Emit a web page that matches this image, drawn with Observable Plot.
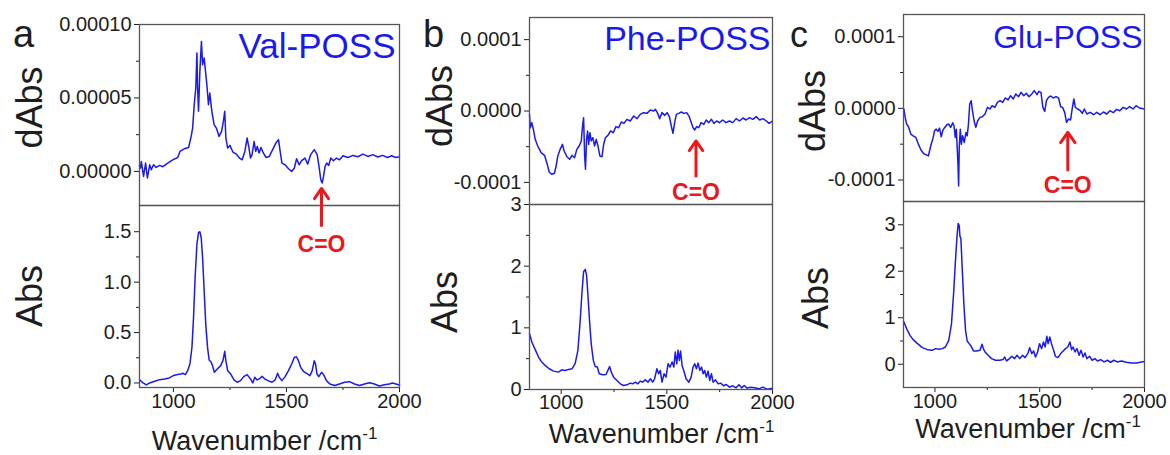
<!DOCTYPE html>
<html><head><meta charset="utf-8">
<script src="https://cdn.jsdelivr.net/npm/d3@7"></script>
<script src="https://cdn.jsdelivr.net/npm/@observablehq/plot@0.6"></script>
<style>
body{margin:0;background:#fff;}
#fig{position:relative;width:1170px;height:455px;overflow:hidden;background:#fff;font-family:"Liberation Sans",Arial,sans-serif;}
</style></head><body><div id="fig"></div>
<script>
// ---------- data (wavenumber /cm-1, value) ----------
// dAbs values are in units of 1e-5
const valDabs = [[850,0.4],[854,0.23],[858,0.68],[868,-0.34],[877,0.57],[885,-0.45],[895,0.45],[902,0.11],[912,0.45],[924,0.27],[939,0.41],[953,0.32],[975,0.57],[997,0.79],[1019,0.95],[1029,1.36],[1048,1.54],[1067,1.63],[1077,2.27],[1085,2.95],[1092,4.54],[1099,5.68],[1104,8.06],[1107,5.68],[1111,4.09],[1117,6.81],[1124,8.85],[1129,7.26],[1136,7.72],[1142,6.81],[1148,5.90],[1155,4.54],[1161,5.33],[1170,4.09],[1180,3.18],[1190,2.95],[1202,2.38],[1213,2.72],[1221,3.41],[1227,4.09],[1232,2.27],[1240,1.59],[1250,1.77],[1263,1.32],[1278,1.18],[1292,0.91],[1304,0.79],[1316,1.36],[1326,2.27],[1333,1.70],[1341,0.91],[1348,1.14],[1357,2.04],[1364,1.36],[1371,1.70],[1379,1.25],[1387,1.63],[1396,1.32],[1409,0.95],[1424,1.02],[1439,1.48],[1453,1.93],[1465,2.16],[1471,1.48],[1480,0.57],[1494,0.45],[1509,0.18],[1523,0.00],[1535,0.23],[1545,0.86],[1556,0.45],[1567,0.73],[1582,0.91],[1594,0.50],[1607,1.14],[1623,1.48],[1636,1.14],[1645,0.23],[1652,-0.57],[1658,-0.79],[1664,-0.34],[1671,0.34],[1678,0.57],[1687,0.41],[1696,0.91],[1708,0.73],[1721,0.91],[1735,0.79],[1750,1.07],[1772,0.95],[1794,1.09],[1816,1.00],[1838,1.18],[1860,1.02],[1882,1.14],[1904,0.98],[1925,1.09],[1947,0.95],[1965,1.07],[1984,0.95],[2000,1.00]];
const valAbs = [[850,0.03],[854,0.023],[866,0.0],[880,-0.02],[895,0.0],[917,0.017],[939,0.033],[961,0.04],[982,0.05],[1000,0.073],[1019,0.083],[1034,0.089],[1041,0.096],[1053,0.083],[1063,0.122],[1073,0.188],[1082,0.353],[1089,0.65],[1096,1.046],[1104,1.376],[1111,1.49],[1117,1.50],[1123,1.44],[1129,1.244],[1136,0.914],[1143,0.584],[1151,0.353],[1158,0.228],[1167,0.205],[1173,0.172],[1181,0.106],[1194,0.139],[1209,0.172],[1219,0.221],[1227,0.314],[1232,0.221],[1240,0.122],[1253,0.089],[1268,0.03],[1282,0.007],[1297,0.023],[1311,0.063],[1326,0.083],[1341,0.04],[1351,0.0],[1360,0.056],[1370,0.03],[1380,0.04],[1392,0.066],[1404,0.04],[1418,0.023],[1436,0.007],[1450,0.03],[1461,0.096],[1468,0.056],[1480,0.023],[1494,0.063],[1509,0.122],[1523,0.188],[1535,0.254],[1544,0.26],[1553,0.221],[1563,0.155],[1575,0.116],[1589,0.096],[1604,0.073],[1614,0.122],[1623,0.221],[1629,0.182],[1635,0.089],[1643,0.063],[1655,0.106],[1664,0.083],[1677,0.023],[1692,-0.01],[1713,-0.026],[1735,-0.01],[1757,0.007],[1779,0.013],[1801,-0.01],[1823,-0.026],[1845,-0.01],[1867,0.003],[1889,-0.01],[1911,-0.03],[1933,-0.017],[1955,-0.01],[1969,0.0],[1984,-0.01],[2000,-0.02]];

const pheDabs = [[850,-0.47],[854,-2.34],[861,-1.63],[869,-2.66],[877,-3.97],[889,-4.9],[905,-5.84],[921,-6.21],[932,-7.24],[943,-8.55],[956,-8.87],[968,-8.73],[976,-7.71],[984,-6.30],[995,-5.37],[1006,-4.67],[1014,-5.60],[1027,-6.40],[1040,-6.77],[1051,-6.21],[1063,-6.54],[1074,-5.37],[1085,-4.90],[1095,-4.20],[1101,-2.10],[1106,-0.93],[1111,-6.30],[1115,-8.17],[1120,-3.97],[1125,-2.80],[1130,-4.67],[1136,-3.04],[1142,-4.20],[1150,-3.74],[1158,-4.90],[1166,-3.97],[1174,-4.90],[1183,-6.30],[1193,-6.40],[1201,-4.67],[1209,-3.74],[1221,-3.41],[1234,-2.80],[1246,-3.04],[1259,-2.19],[1272,-2.34],[1284,-1.54],[1297,-1.73],[1311,-1.17],[1327,-1.40],[1343,-0.70],[1359,-1.07],[1374,-0.47],[1390,-0.23],[1406,-0.33],[1422,0.14],[1438,0.0],[1446,0.23],[1455,-0.23],[1466,-1.07],[1477,-0.23],[1490,-0.61],[1501,-0.23],[1512,-0.79],[1521,-2.10],[1529,-3.13],[1537,-1.63],[1545,-0.47],[1556,-0.33],[1568,-0.14],[1581,-0.33],[1594,-0.23],[1606,-0.79],[1616,-1.63],[1624,-2.34],[1632,-2.66],[1641,-2.19],[1651,-2.34],[1662,-1.63],[1675,-1.87],[1686,-1.26],[1698,-1.63],[1711,-1.17],[1723,-1.73],[1736,-1.40],[1749,-1.63],[1764,-1.26],[1780,-1.63],[1796,-1.40],[1812,-1.63],[1828,-1.07],[1844,-1.40],[1860,-0.98],[1875,-1.26],[1891,-0.93],[1907,-1.17],[1923,-0.79],[1939,-1.26],[1955,-1.07],[1971,-1.40],[1984,-1.73],[2000,-1.40]];
const pheAbs = [[850,0.906],[861,0.77],[877,0.646],[893,0.526],[908,0.445],[924,0.39],[943,0.336],[964,0.298],[987,0.282],[1003,0.32],[1019,0.309],[1035,0.326],[1051,0.336],[1066,0.418],[1079,0.635],[1090,1.123],[1098,1.557],[1106,1.91],[1114,1.948],[1120,1.856],[1126,1.557],[1134,1.123],[1142,0.743],[1152,0.472],[1161,0.374],[1171,0.364],[1180,0.255],[1196,0.239],[1212,0.244],[1221,0.309],[1229,0.374],[1237,0.282],[1248,0.2],[1264,0.146],[1280,0.092],[1295,0.065],[1311,0.076],[1327,0.103],[1338,0.092],[1351,0.119],[1363,0.092],[1374,0.136],[1385,0.119],[1398,0.157],[1411,0.119],[1422,0.174],[1433,0.119],[1442,0.174],[1453,0.336],[1461,0.255],[1469,0.309],[1477,0.119],[1487,0.255],[1496,0.2],[1506,0.418],[1515,0.364],[1525,0.445],[1533,0.364],[1540,0.608],[1547,0.418],[1553,0.635],[1559,0.472],[1565,0.624],[1572,0.39],[1580,0.309],[1591,0.174],[1604,0.119],[1615,0.2],[1624,0.364],[1632,0.418],[1640,0.336],[1648,0.429],[1656,0.309],[1664,0.364],[1672,0.255],[1679,0.309],[1687,0.2],[1695,0.298],[1703,0.146],[1711,0.255],[1719,0.119],[1730,0.157],[1743,0.092],[1755,0.103],[1768,0.06],[1781,0.081],[1797,0.038],[1812,0.06],[1828,0.027],[1841,0.076],[1854,0.027],[1866,0.065],[1880,0.022],[1896,0.038],[1916,0.027],[1935,0.011],[1954,0.038],[1975,0.005],[2000,0.022]];

const gluDabs = [[850,-0.05],[852,-0.09],[858,-1.26],[865,-2.19],[874,-2.57],[885,-3.60],[896,-3.83],[909,-4.06],[921,-5.0],[934,-5.84],[946,-6.30],[959,-6.49],[969,-6.63],[975,-5.84],[983,-4.90],[991,-4.16],[998,-3.13],[1006,-2.90],[1014,-3.22],[1022,-2.76],[1030,-3.97],[1038,-3.04],[1047,-2.66],[1057,-2.29],[1066,-2.19],[1075,-2.66],[1085,-2.01],[1091,-2.43],[1097,-4.06],[1102,-2.90],[1107,-5.93],[1110,-7.80],[1113,-10.83],[1116,-5.46],[1121,-2.90],[1126,-5.0],[1132,-3.83],[1140,-4.76],[1148,-3.36],[1154,-3.83],[1160,-2.19],[1166,0.61],[1173,1.07],[1179,-0.33],[1187,-1.73],[1195,-2.66],[1204,-1.73],[1215,-1.26],[1226,-1.17],[1239,-0.79],[1251,0.14],[1262,-0.09],[1273,0.37],[1286,0.14],[1298,0.84],[1311,1.07],[1323,0.84],[1336,1.45],[1349,1.17],[1361,1.77],[1374,1.31],[1386,2.01],[1399,1.63],[1411,2.24],[1424,1.77],[1436,2.10],[1449,1.63],[1462,2.01],[1474,2.48],[1487,1.91],[1496,2.38],[1506,2.24],[1515,0.14],[1524,-0.42],[1532,1.07],[1542,1.54],[1553,1.73],[1565,1.45],[1578,1.63],[1590,1.45],[1600,0.23],[1609,0.14],[1619,-0.56],[1628,-1.96],[1637,-1.49],[1647,-1.63],[1656,0.14],[1663,1.31],[1670,0.14],[1681,-0.09],[1694,-0.33],[1703,-0.70],[1713,-0.09],[1725,-0.79],[1741,-0.56],[1757,-0.89],[1772,-0.56],[1788,-0.89],[1804,-0.51],[1820,-0.79],[1835,-0.33],[1851,-0.61],[1867,-0.14],[1882,-0.33],[1898,0.14],[1914,-0.09],[1929,0.23],[1945,-0.09],[1960,0.37],[1976,0.05],[2000,-0.09]];
const gluAbs = [[850,0.92],[852,0.907],[865,0.764],[881,0.621],[896,0.529],[917,0.443],[940,0.357],[964,0.314],[987,0.3],[1003,0.336],[1019,0.321],[1035,0.336],[1050,0.371],[1066,0.514],[1079,0.871],[1089,1.514],[1097,2.157],[1105,2.729],[1111,3.029],[1116,2.979],[1119,2.764],[1124,2.693],[1130,2.086],[1138,1.30],[1146,0.729],[1154,0.5],[1163,0.443],[1173,0.386],[1184,0.286],[1199,0.286],[1215,0.3],[1225,0.429],[1231,0.336],[1239,0.264],[1254,0.193],[1270,0.121],[1289,0.086],[1309,0.086],[1325,0.1],[1333,0.157],[1342,0.071],[1356,0.121],[1367,0.171],[1380,0.121],[1392,0.193],[1405,0.121],[1418,0.193],[1430,0.143],[1443,0.229],[1452,0.357],[1462,0.229],[1471,0.286],[1480,0.157],[1490,0.264],[1499,0.443],[1509,0.336],[1518,0.479],[1526,0.371],[1534,0.6],[1540,0.443],[1548,0.586],[1556,0.443],[1564,0.336],[1575,0.171],[1587,0.143],[1600,0.229],[1612,0.286],[1623,0.336],[1634,0.371],[1644,0.479],[1652,0.314],[1659,0.371],[1669,0.264],[1678,0.336],[1688,0.193],[1697,0.3],[1707,0.157],[1716,0.243],[1725,0.121],[1738,0.171],[1750,0.086],[1763,0.121],[1776,0.071],[1791,0.1],[1807,0.05],[1823,0.086],[1838,0.043],[1854,0.086],[1870,0.05],[1890,0.071],[1914,0.043],[1937,0.029],[1961,0.029],[1980,0.043],[2000,0.057]];

// tick values
const xMajor = [1000, 1500, 2000];
const xMinor = [1250, 1750];
const names = ["Val-POSS", "Phe-POSS", "Glu-POSS"];
const letters = ["a", "b", "c"];
// C=O arrow: wavenumber, tip (dAbs), tail (dAbs), label position (dAbs)
const coWave = [1655, 1638, 1634];
const coTip = [-1.16e-5, -4.2e-5, -3.35e-5];
const coTail = [-3.68e-5, -9.1e-5, -8.6e-5];
const coLabel = [-4.97e-5, -11.4e-5, -10.8e-5];

// ---------- layout / style ----------
const BLUE = "#1a1aee", RED = "#e8181c", FRAME = "#555", INK = "#1e1e1e";
const FONT = "'Liberation Sans', Arial, sans-serif";
const fix = n => d => d.toFixed(n);
const panels = [
  {L:139, R:399, T:24, M:205, B:387, dabs:valDabs, abs:valAbs,
   dDomain:[-2.32e-5, 1e-4], dTicks:[0, 5e-5, 1e-4], dMinor:[2.5e-5, 7.5e-5], dFmt:fix(5),
   aDomain:[-0.045, 1.76], aTicks:[0, 0.5, 1, 1.5], aMinor:[0.25, 0.75, 1.25], aFmt:fix(1),
   nameSize:35, nameDx:-4, nameDy:9, xPad:1},
  {L:529, R:772, T:17, M:204, B:389, dabs:pheDabs, abs:pheAbs,
   dDomain:[-1.31e-4, 1.31e-4], dTicks:[-1e-4, 0, 1e-4], dMinor:[-5e-5, 5e-5], dFmt:fix(4),
   aDomain:[0, 3], aTicks:[0, 1, 2, 3], aMinor:[0.5, 1.5, 2.5], aFmt:fix(0),
   nameSize:34, nameDx:-2, nameDy:8, xPad:0},
  {L:903, R:1144, T:14, M:201, B:387, dabs:gluDabs, abs:gluAbs,
   dDomain:[-1.3e-4, 1.31e-4], dTicks:[-1e-4, 0, 1e-4], dMinor:[-5e-5, 5e-5], dFmt:fix(4),
   aDomain:[-0.5, 3.5], aTicks:[0, 1, 2, 3], aMinor:[0.5, 1.5, 2.5], aFmt:fix(0),
   nameSize:32, nameDx:-2, nameDy:11, xPad:1}
];
const ML = 110, MR = 10, MT = 10, MB = 40;
const fig = document.getElementById("fig");
const baseStyle = {background:"transparent", overflow:"visible", fontFamily:FONT, fontSize:"20px", color:INK};

function place(el, left, top) {
  el.style.position = "absolute";
  el.style.left = left + "px";
  el.style.top = top + "px";
  el.style.maxWidth = "none";
  fig.appendChild(el);
}

const tops = [];
panels.forEach((P, i) => {
  const w = P.R - P.L + ML + MR;
  const dTable = P.dabs.map(([x, v]) => ({w: x, v: v * 1e-5}));
  const aTable = P.abs.map(([x, v]) => ({w: x, v}));

  const bottom = Plot.plot({
    width: w, height: P.B - P.M + MB,
    marginLeft: ML, marginRight: MR, marginTop: 0, marginBottom: MB,
    x: {domain: [850, 2000]}, y: {domain: P.aDomain},
    style: baseStyle,
    marks: [
      Plot.axisY({ticks: P.aTicks, tickSize: 5, tickPadding: 3, tickFormat: P.aFmt, label: null}),
      Plot.axisY({ticks: P.aMinor, tickSize: 3, tickFormat: () => "", label: null}),
      Plot.axisX({ticks: xMajor, tickSize: 5, tickPadding: P.xPad, tickFormat: d => String(d), label: null}),
      Plot.axisX({ticks: xMinor, tickSize: 3, tickFormat: () => "", label: null}),
      Plot.line(aTable, {x: "w", y: "v", stroke: BLUE, strokeWidth: 1.5}),
      Plot.frame({stroke: FRAME, strokeWidth: 1.3})
    ]
  });
  place(bottom, P.L - ML, P.M);

  const top = Plot.plot({
    width: w, height: P.M - P.T + MT,
    marginLeft: ML, marginRight: MR, marginTop: MT, marginBottom: 0,
    x: {domain: [850, 2000], axis: null}, y: {domain: P.dDomain},
    style: baseStyle,
    marks: [
      Plot.axisY({ticks: P.dTicks, tickSize: 5, tickPadding: 3, tickFormat: P.dFmt, label: null}),
      Plot.axisY({ticks: P.dMinor, tickSize: 3, tickFormat: () => "", label: null}),
      Plot.line(dTable, {x: "w", y: "v", stroke: BLUE, strokeWidth: 1.5}),
      Plot.frame({stroke: FRAME, strokeWidth: 1.3}),
      Plot.text([names[i]], {text: d => d, frameAnchor: "top-right", textAnchor: "end", lineAnchor: "top",
        dx: P.nameDx, dy: P.nameDy, fontSize: P.nameSize, fill: BLUE}),
      Plot.arrow([0], {x1: () => coWave[i], x2: () => coWave[i], y1: () => coTail[i], y2: () => coTip[i],
        stroke: RED, strokeWidth: 3, headLength: 13, headAngle: 70}),
      Plot.text([0], {x: () => coWave[i], y: () => coLabel[i], text: () => "C=O", fill: RED,
        fontWeight: "bold", fontSize: 23, lineAnchor: "middle"})
    ]
  });
  tops.push([top, P.L - ML, P.T - MT]);
});
tops.forEach(([el, l, t]) => place(el, l, t));

// ---------- panel letters and axis titles ----------
const ov = d3.create("svg").attr("width", 1170).attr("height", 455)
  .style("position", "absolute").style("left", "0px").style("top", "0px")
  .style("font-family", FONT).attr("fill", INK);
const letterPos = [[13, 46.7, 38], [423, 46.7, 38], [790, 46.7, 36]];
letters.forEach((t, i) => ov.append("text").attr("x", letterPos[i][0]).attr("y", letterPos[i][1])
  .attr("font-size", letterPos[i][2]).text(t));
const yTitles = [["dAbs", 41.5, 107.5], ["Abs", 41.5, 296], ["dAbs", 452, 106], ["Abs", 457, 302],
                 ["dAbs", 825, 111], ["Abs", 828, 298]];
yTitles.forEach(([t, x, y]) => ov.append("text").attr("transform", `translate(${x},${y}) rotate(-90)`)
  .attr("text-anchor", "middle").attr("font-size", 36).text(t));
const xTitles = [[264.5, 450], [661.5, 443], [1028, 438]];
xTitles.forEach(([x, y]) => {
  const t = ov.append("text").attr("x", x).attr("y", y).attr("text-anchor", "middle").attr("font-size", 27);
  t.append("tspan").text("Wavenumber /cm");
  t.append("tspan").attr("dy", -11).attr("font-size", 17).text("-1");
});
fig.appendChild(ov.node());
</script></body></html>
